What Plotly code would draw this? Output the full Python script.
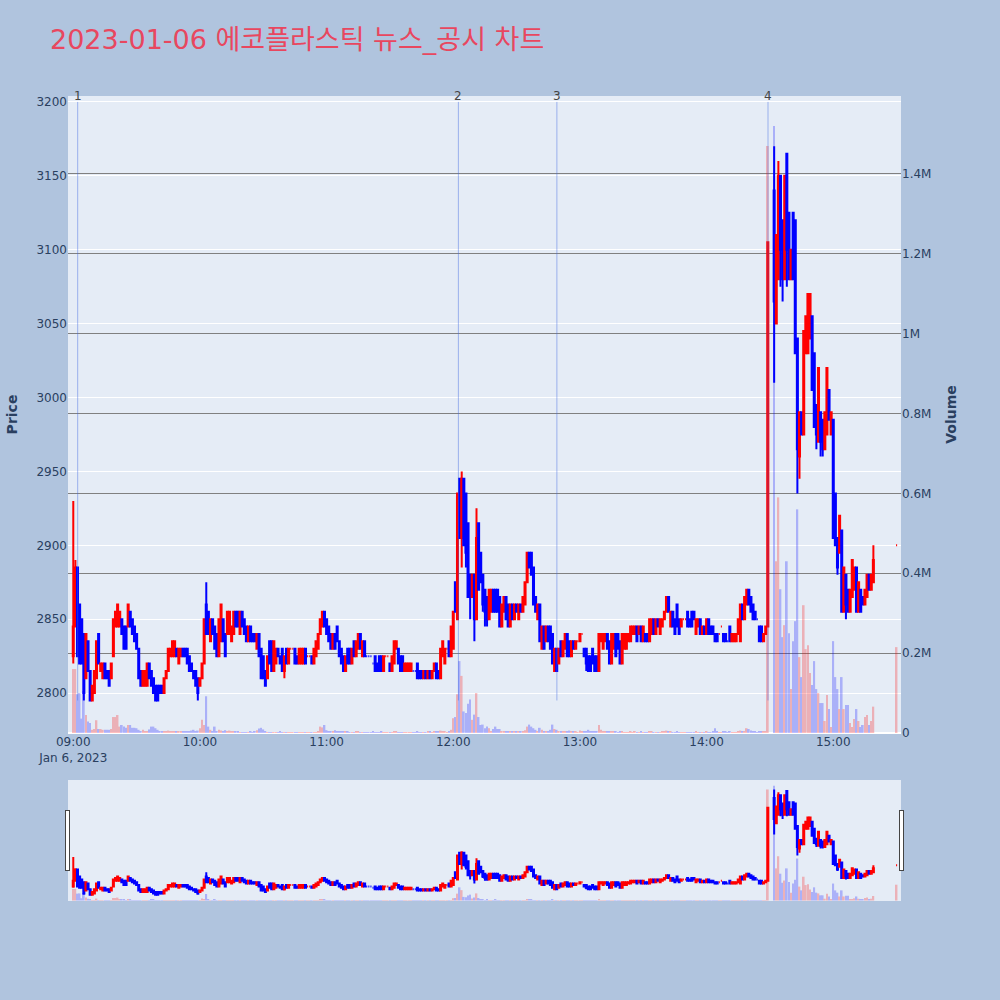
import datetime as dt
import plotly.graph_objects as go

TITLE = "2023-01-06 에코플라스틱 뉴스_공시 차트"
DAY_OPEN = dt.datetime(2023, 1, 6, 9, 0)

# minute offsets from 09:00 (no trades 14:30-14:31 VI, 15:20-15:29 closing auction)
minutes = list(range(0, 330)) + list(range(332, 380)) + [390]

opens = [
    2825, 2845, 2885, 2860, 2850, 2840, 2810, 2835, 2815, 2795,
    2800, 2810, 2840, 2815, 2810, 2820, 2815, 2815, 2810, 2825,
    2845, 2845, 2845, 2850, 2845, 2845, 2845, 2855, 2850, 2845,
    2840, 2830, 2815, 2805, 2805, 2805, 2820, 2815, 2810, 2805,
    2805, 2805, 2805, 2800, 2810, 2815, 2825, 2825, 2825, 2830,
    2820, 2825, 2830, 2830, 2830, 2825, 2820, 2815, 2815, 2810,
    2805, 2810, 2820, 2860, 2855, 2835, 2850, 2845, 2840, 2825,
    2835, 2850, 2840, 2840, 2840, 2835, 2840, 2855, 2855, 2840,
    2855, 2850, 2845, 2835, 2845, 2840, 2840, 2830, 2840, 2830,
    2825, 2815, 2810, 2835, 2835, 2815, 2820, 2830, 2825, 2830,
    2815, 2830, 2820, 2830, 2830, 2830, 2825, 2820, 2820, 2820,
    2830, 2825, 2825, 2825, 2820, 2825, 2830, 2840, 2845, 2855,
    2850, 2845, 2840, 2830, 2840, 2845, 2835, 2830, 2825, 2815,
    2830, 2830, 2820, 2835, 2825, 2830, 2840, 2825, 2835, 2825,
    2825, 2825, 2820, 2825, 2820, 2825, 2825, 2815, 2825, 2825,
    2820, 2815, 2820, 2830, 2830, 2825, 2825, 2815, 2815, 2815,
    2815, 2815, 2815, 2820, 2815, 2815, 2810, 2815, 2810, 2815,
    2810, 2815, 2820, 2815, 2810, 2825, 2820, 2830, 2835, 2825,
    2830, 2875, 2850, 2945, 2905, 2945, 2935, 2915, 2880, 2865,
    2880, 2850, 2915, 2895, 2880, 2870, 2865, 2850, 2855, 2870,
    2870, 2870, 2865, 2845, 2855, 2865, 2860, 2845, 2860, 2850,
    2860, 2850, 2860, 2855, 2860, 2875, 2895, 2895, 2885, 2865,
    2850, 2860, 2830, 2845, 2835, 2845, 2845, 2840, 2815, 2830,
    2820, 2835, 2825, 2830, 2840, 2835, 2825, 2835, 2830, 2835,
    2835, 2840, 2830, 2830, 2825, 2825, 2830, 2825, 2825, 2815,
    2835, 2830, 2835, 2840, 2835, 2820, 2830, 2840, 2840, 2835,
    2820, 2830, 2830, 2835, 2835, 2840, 2840, 2845, 2840, 2845,
    2835, 2840, 2840, 2835, 2840, 2850, 2840, 2850, 2840, 2845,
    2850, 2855, 2865, 2845, 2855, 2850, 2860, 2850, 2845, 2850,
    2850, 2855, 2850, 2855, 2855, 2840, 2845, 2850, 2840, 2845,
    2840, 2850, 2845, 2845, 2840, 2840, 2840, 2845, 2840, 2840,
    2835, 2845, 2835, 2835, 2835, 2840, 2835, 2860, 2850, 2860,
    2870, 2865, 2860, 2855, 2850, 2845, 2845, 2835, 2840, 2845,
    3140, 3050, 3080, 3150, 3120, 3080, 3165, 3125, 3080, 3125,
    3120, 3040, 2960, 2990, 2975, 3030, 3030, 3040, 3055, 3030,
    2995, 2970, 2990, 2985, 2965, 2975, 3005, 2975, 2985, 2935,
    2905, 2895, 2910, 2855, 2880, 2870, 2855, 2865, 2870, 2885,
    2855, 2870, 2865, 2860, 2865, 2880, 2870, 2875,
    2900,
]

closes = [
    2845, 2885, 2825, 2820, 2820, 2800, 2840, 2815, 2795, 2805,
    2815, 2835, 2820, 2820, 2820, 2810, 2810, 2805, 2820, 2850,
    2855, 2860, 2855, 2840, 2830, 2830, 2860, 2845, 2840, 2835,
    2830, 2810, 2805, 2815, 2815, 2820, 2810, 2805, 2800, 2795,
    2795, 2800, 2800, 2810, 2815, 2830, 2830, 2835, 2835, 2825,
    2830, 2830, 2825, 2825, 2820, 2815, 2815, 2810, 2805, 2800,
    2810, 2820, 2850, 2840, 2840, 2850, 2840, 2830, 2825, 2850,
    2860, 2835, 2825, 2855, 2855, 2845, 2855, 2845, 2845, 2855,
    2845, 2840, 2835, 2845, 2835, 2835, 2835, 2840, 2825, 2810,
    2810, 2805, 2825, 2820, 2815, 2835, 2830, 2825, 2820, 2815,
    2825, 2820, 2830, 2830, 2830, 2820, 2820, 2830, 2830, 2830,
    2820, 2825, 2825, 2820, 2830, 2835, 2840, 2850, 2855, 2845,
    2840, 2835, 2830, 2840, 2830, 2835, 2825, 2820, 2815, 2825,
    2820, 2820, 2830, 2825, 2835, 2840, 2830, 2835, 2825, 2825,
    2825, 2825, 2820, 2815, 2815, 2815, 2815, 2825, 2825, 2825,
    2815, 2825, 2835, 2835, 2820, 2815, 2815, 2820, 2820, 2820,
    2820, 2815, 2815, 2810, 2810, 2810, 2815, 2810, 2815, 2810,
    2815, 2820, 2810, 2810, 2830, 2835, 2830, 2830, 2825, 2845,
    2855, 2855, 2935, 2905, 2945, 2900, 2895, 2865, 2865, 2880,
    2850, 2905, 2870, 2875, 2860, 2855, 2850, 2870, 2870, 2855,
    2855, 2855, 2845, 2860, 2865, 2850, 2845, 2860, 2850, 2860,
    2855, 2860, 2855, 2865, 2875, 2895, 2885, 2880, 2860, 2855,
    2860, 2835, 2845, 2830, 2845, 2835, 2830, 2820, 2830, 2815,
    2830, 2825, 2835, 2840, 2825, 2825, 2835, 2830, 2835, 2835,
    2840, 2840, 2825, 2820, 2815, 2815, 2820, 2815, 2815, 2840,
    2840, 2840, 2840, 2830, 2820, 2840, 2840, 2825, 2830, 2820,
    2840, 2840, 2840, 2840, 2845, 2845, 2845, 2835, 2845, 2835,
    2845, 2835, 2835, 2850, 2850, 2840, 2850, 2845, 2850, 2850,
    2855, 2865, 2855, 2855, 2845, 2840, 2845, 2840, 2850, 2850,
    2850, 2845, 2845, 2845, 2850, 2850, 2850, 2840, 2845, 2840,
    2850, 2840, 2840, 2840, 2835, 2835, 2840, 2845, 2835, 2835,
    2835, 2835, 2840, 2840, 2840, 2850, 2860, 2850, 2865, 2870,
    2860, 2855, 2850, 2850, 2850, 2835, 2835, 2840, 2845, 3105,
    3065, 3110, 3150, 3100, 3080, 3150, 3100, 3080, 3100, 3080,
    3030, 2965, 2990, 2975, 3045, 3055, 3070, 3070, 3005, 2980,
    2975, 3020, 2970, 2965, 2990, 3020, 2985, 2990, 2905, 2900,
    2885, 2920, 2855, 2885, 2860, 2855, 2870, 2890, 2885, 2855,
    2875, 2855, 2860, 2870, 2880, 2870, 2880, 2890,
    2900,
]

# wick extremes beyond the body, keyed by minute offset
wick_hi = {0: 2930, 1: 2890, 63: 2875, 181: 2875, 184: 2950, 191: 2925,
           332: 3170, 334: 3160, 338: 3165, 379: 2900}
wick_lo = {0: 2820, 5: 2795, 59: 2795, 100: 2810, 184: 2885, 186: 2885,
           188: 2850, 190: 2835, 194: 2855, 195: 2845, 196: 2845, 243: 2815,
           332: 3010, 335: 3075, 336: 3065, 338: 3075, 343: 2935, 344: 2945,
           352: 2965, 354: 2960, 355: 2960, 362: 2880, 366: 2850}

VOL_UNIT = 1000
volumes_k = [
    160, 160, 97, 100, 36, 105, 45, 29, 25, 8,
    10, 32, 10, 10, 8, 8, 8, 8, 10, 40,
    40, 45, 16, 20, 16, 13, 20, 20, 13, 13,
    12, 8, 5, 8, 5, 3, 9, 16, 16, 12,
    8, 3, 3, 5, 5, 6, 5, 5, 3, 5,
    3, 3, 3, 5, 3, 5, 6, 8, 5, 6,
    12, 33, 20, 92, 16, 8, 4, 16, 5, 8,
    6, 3, 7, 5, 6, 4, 3, 3, 4, 2,
    2, 2, 2, 2, 3, 2, 3, 7, 11, 13,
    9, 4, 2, 2, 1, 1, 1, 2, 3, 2,
    1, 1, 1, 1, 1, 1, 2, 1, 1, 1,
    1, 1, 2, 2, 1, 2, 3, 16, 14, 20,
    7, 3, 3, 3, 7, 3, 3, 3, 5, 3,
    3, 2, 2, 2, 3, 3, 2, 2, 2, 1,
    1, 1, 3, 2, 2, 2, 3, 2, 1, 1,
    2, 2, 3, 5, 2, 2, 2, 2, 2, 2,
    1, 1, 1, 3, 2, 2, 2, 2, 3, 3,
    2, 4, 3, 3, 6, 5, 4, 2, 5, 8,
    37, 40, 97, 180, 143, 54, 50, 73, 84, 33,
    46, 100, 40, 20, 21, 12, 16, 12, 5, 10,
    16, 10, 10, 5, 4, 5, 4, 5, 3, 4,
    3, 4, 4, 5, 7, 16, 21, 16, 12, 8,
    5, 13, 8, 5, 4, 5, 8, 21, 10, 8,
    5, 4, 4, 3, 5, 6, 3, 3, 4, 2,
    6, 3, 4, 5, 8, 4, 3, 5, 4, 20,
    8, 5, 4, 3, 3, 4, 3, 3, 2, 3,
    4, 2, 2, 2, 3, 2, 3, 2, 2, 3,
    2, 2, 2, 3, 3, 2, 2, 2, 2, 3,
    4, 6, 3, 3, 2, 2, 3, 2, 2, 1,
    1, 2, 2, 2, 2, 3, 2, 2, 2, 2,
    3, 2, 2, 3, 12, 4, 1, 1, 3, 3,
    1, 3, 2, 2, 2, 3, 6, 4, 5, 12,
    10, 6, 4, 3, 1, 5, 4, 3, 4, 1470,
    1520, 430, 590, 360, 240, 270, 430, 250, 110, 230,
    280, 560, 190, 140, 320, 210, 220, 150, 120, 180,
    110, 100, 75, 75, 30, 95, 60, 15, 230, 140,
    110, 60, 140, 60, 70, 70, 25, 15, 35, 60,
    30, 15, 20, 40, 45, 20, 30, 66,
    215,
]

# news / disclosure markers
news_times = ["09:02:05", "12:02:25", "12:49:05", "14:29:05"]
news_labels = ["1", "2", "3", "4"]

assert len(opens) == len(closes) == len(volumes_k) == len(minutes)

times = [DAY_OPEN + dt.timedelta(minutes=m) for m in minutes]
highs = [max(o, c, wick_hi.get(m, o)) for m, o, c in zip(minutes, opens, closes)]
lows = [min(o, c, wick_lo.get(m, o)) for m, o, c in zip(minutes, opens, closes)]
volumes = [v * VOL_UNIT for v in volumes_k]

# volume colour follows the candle direction (plotly rule for doji: vs previous close)
bar_colors = []
up = True
prev_c = None
for o, c in zip(opens, closes):
    if c != o:
        up = c > o
    elif prev_c is not None and c != prev_c:
        up = c > prev_c
    prev_c = c
    bar_colors.append("red" if up else "blue")

fig = go.Figure()
fig.add_trace(go.Candlestick(
    x=times, open=opens, high=highs, low=lows, close=closes,
    increasing=dict(line=dict(color="red"), fillcolor="red"),
    decreasing=dict(line=dict(color="blue"), fillcolor="blue"),
    whiskerwidth=0,
    name="Price",
    showlegend=False,
))
fig.add_trace(go.Bar(
    x=times, y=volumes, yaxis="y2",
    marker=dict(color=bar_colors, line=dict(width=0)),
    opacity=0.25,
    name="Volume",
    showlegend=False,
))

for t, label in zip(news_times, news_labels):
    ts = "2023-01-06 " + t
    fig.add_shape(type="line", xref="x", yref="y", x0=ts, x1=ts, y0=2795, y1=3200,
                  line=dict(color="royalblue", width=1), opacity=0.45)
    fig.add_annotation(x=ts, y=1, xref="x", yref="paper", text=label,
                       showarrow=False, yanchor="middle", font=dict(size=12, color="#444"))

fig.update_layout(
    width=1000,
    height=1000,
    title=dict(text=TITLE, x=0.05, xanchor="left", y=0.96, yanchor="middle",
               font=dict(size=27, color="#E8475F")),
    font=dict(family="DejaVu Sans, Verdana, Noto Sans CJK KR, sans-serif"),
    paper_bgcolor="lightsteelblue",
    plot_bgcolor="#E5ECF6",
    margin=dict(l=68, r=99, t=96, b=100),
    showlegend=False,
    xaxis=dict(
        range=["2023-01-06 08:57:30", "2023-01-06 15:32:05"],
        showgrid=False,
        dtick=3600000,
        rangeslider=dict(visible=True, bgcolor="#E5ECF6", thickness=0.15),
    ),
    yaxis=dict(
        title=dict(text="Price", font=dict(size=14, weight="bold")),
        range=[2773, 3204],
    ),
    yaxis2=dict(
        title=dict(text="Volume", font=dict(size=14, weight="bold")),
        overlaying="y",
        side="right",
        range=[0, 1.595e6],
        showgrid=True,
        gridcolor="grey",
    ),
)

# the page body otherwise adds an 8px white border round the 1000x1000 figure
fig.write_html("out.html", config={"displayModeBar": False},
               post_script="document.body.style.margin = '0';")
